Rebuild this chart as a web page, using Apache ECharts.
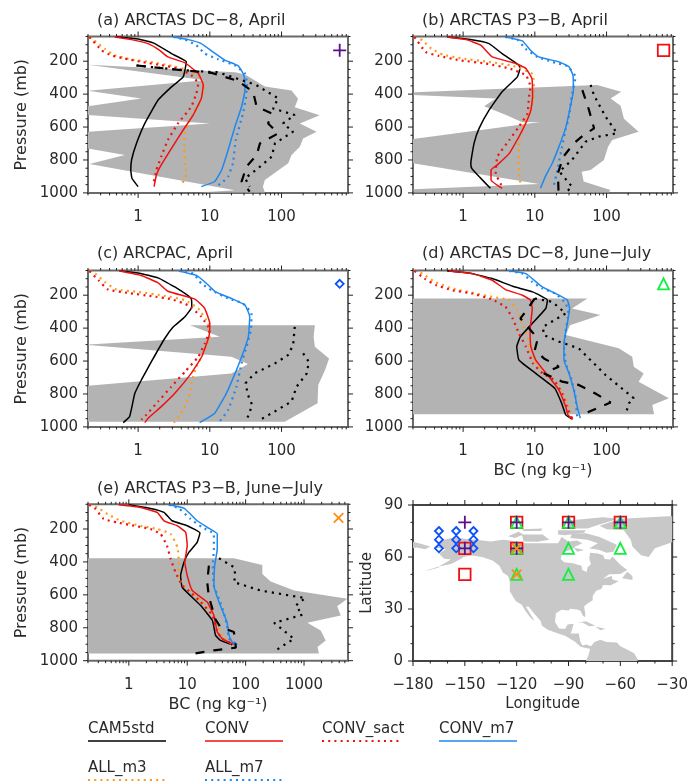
<!DOCTYPE html>
<html><head><meta charset="utf-8">
<style>html,body{margin:0;padding:0;background:#fff}#c{width:691px;height:782px}</style>
<script src="https://cdn.jsdelivr.net/npm/echarts@6/dist/echarts.min.js"></script>
</head><body><div id="c"></div>
<script>
// ---------- panel (a) ----------
const a_cam=[[.5,53],[1,65],[1.71,93],[2.92,154],[4.7,204],[4.25,295],[2.92,356],[1.9,436],[1.24,578],[.95,699],[.81,800],[.79,861],[.82,911],[1,962]];
const a_conv=[[.47,53],[.81,69],[1.38,93],[2,134],[2.6,174],[4.5,210],[6.9,275],[8.1,345],[7.6,426],[5.85,527],[4.25,618],[2.92,729],[2.1,830],[1.8,891],[1.67,962]];
const a_sact=[[.21,53],[.31,134],[.42,164],[.65,184],[1.11,204],[2.1,224],[3.6,244],[5.5,285],[6.9,335],[6.5,396],[5.5,477],[3.6,578],[2.6,679],[2.1,780],[1.8,861],[1.62,952]];
const a_m3=[[.21,53],[.26,83],[.34,124],[.47,164],[.81,190],[1.45,204],[2.92,228],[5,255],[7.6,305],[8.3,366],[7.2,457],[5.5,537],[4.5,638],[4.4,739],[4.6,840],[4.7,891],[4,952]];
const a_m7c=[[3.1,53],[5,69],[7.6,93],[11.1,144],[16.2,194],[24.9,228],[29.9,285],[30.9,376],[27.7,477],[22.4,598],[18,739],[14.6,861],[11.7,931],[7.6,962]];
const a_m7a=[[3.1,53],[4.5,69],[6.5,103],[8.5,154],[13,188],[22,224],[30.9,275],[33,335],[32,416],[29,517],[23,679],[21,820],[18,901],[15.4,931],[12.8,957]];
const a_obsDash=[[.95,226],[3.2,250],[10.6,271],[25,321],[40,385],[45,477],[73,517],[65,578],[90,638],[50,699],[45,770],[32.5,840],[27.7,931],[36,992]];
const a_obsDot=[[.95,226],[3.2,250],[6.2,260],[13,267],[44,344],[90,426],[76,487],[153,527],[105,578],[145,628],[81,699],[73,780],[44,861],[31,911],[36,962]];
const a_range=[[.2,221],[22.4,267],[31,281],[58.5,354],[138,378],[170,428],[153,479],[340,529],[180,578],[308,628],[200,669],[180,719],[138,770],[124,820],[58.5,921],[55,962],[58.5,998],[6.9,998],[22.4,984],[.21,824],[.65,770],[.2,730],[.2,628],[10,578],[.2,527],[.2,473],[1.1,426],[.2,380],[8.5,315]];
// ---------- panel (b) ----------
const b_cam=[[.6,53],[1.2,67],[2.3,93],[3.5,154],[6,224],[6.2,244],[5.7,295],[3.5,386],[2.3,497],[1.67,608],[1.42,699],[1.28,820],[1.32,851],[1.67,901],[2.4,972]];
const b_conv=[[.6,53],[1.1,69],[1.76,103],[2.55,174],[5.4,214],[7.5,244],[9.1,305],[9.3,416],[8.8,497],[7.45,578],[6,659],[4.4,760],[3,830],[2.45,861],[2.45,921],[3.5,972]];
const b_sact=[[.21,53],[.3,144],[.46,168],[.88,194],[2.07,214],[4.4,244],[7.5,285],[8.7,355],[8.3,416],[7.9,517],[6,598],[4.4,679],[3,780],[2.85,881],[3.5,962]];
const b_m3=[[.21,53],[.27,73],[.36,124],[.52,160],[.98,184],[2.3,204],[4.9,228],[9.3,278],[9.8,416],[8.8,497],[7,578],[6,699],[5.9,840],[6.3,941]];
const b_m7c=[[3.85,53],[6.7,77],[8.7,134],[11.3,174],[21.7,204],[30,234],[34,285],[34.5,376],[30.6,497],[26.8,608],[21.7,719],[17.5,820],[14,901],[12,972]];
const b_m7a=[[3.85,53],[5.7,69],[7.4,124],[10.8,174],[17.5,204],[28.4,230],[37,295],[32.5,416],[30,537],[26.8,618],[24,719],[20.6,861],[18.5,952]];
const b_obsDash=[[46,376],[57,497],[67,608],[48,648],[35,699],[25,780],[21,881],[21.4,992]];
const b_obsDot=[[60,344],[67,408],[97,537],[140,638],[78,658],[51,689],[33,800],[22,871],[33,962],[27,998]];
const b_range=[[.21,388],[74,344],[160,385],[114,426],[157,470],[175,550],[280,628],[120,679],[105,719],[92,800],[60,861],[45,871],[48,931],[113,982],[108,998],[.21,998],[.2,978],[11.4,946],[.2,820],[.2,672],[1.67,620],[12,569],[6.7,571],[3.9,525],[1.96,474],[2.85,426],[.2,406]];
// ---------- panel (c) ----------
const c_cam=[[.55,53],[1,65],[1.9,95],[3.25,150],[5.5,220],[5.6,271],[4.5,331],[3.1,392],[2.35,463],[1.53,604],[1.11,715],[.9,796],[.82,877],[.76,937],[.62,974]];
const c_conv=[[.55,53],[1.11,80],[1.9,125],[2.6,176],[6.2,224],[8.5,281],[10,372],[9.7,452],[7.7,574],[5.5,675],[3.25,796],[2.1,877],[1.38,947],[1.24,974]];
const c_sact=[[.21,53],[.28,109],[.38,166],[.72,186],[1.53,206],[2.9,224],[5,261],[7.6,331],[10,412],[8.5,493],[6.9,574],[4.5,665],[2.9,756],[1.9,846],[1.3,927],[1.11,957]];
const c_m3=[[.21,53],[.26,73],[.34,119],[.5,166],[1,180],[2.35,204],[4.5,230],[6.9,281],[9.5,372],[10,452],[8.5,533],[6.5,634],[5.5,735],[5.25,796],[4.25,897],[3.15,974]];
const c_m7c=[[3.7,53],[6.5,80],[9,129],[12,180],[20,220],[31,261],[36,331],[34.5,452],[29,553],[23.5,655],[17,796],[11.7,917],[7.2,974]];
const c_m7a=[[3.7,53],[5.9,69],[7.6,129],[10.6,170],[18,220],[29,250],[38,311],[37.5,412],[32.5,513],[27.7,614],[23.5,756],[18,897],[13.8,965]];
const c_obsDot1=[[153,392],[145,503],[123,564],[81,614],[42,675],[31.5,735],[34,806],[39,867],[34,937],[31.5,968]];
const c_obsDot2=[[200,553],[240,604],[225,675],[162,756],[138,846],[73,917],[50,957]];
const c_range=[[5.3,382],[292,382],[280,452],[292,513],[460,584],[405,655],[325,745],[318,857],[111,968],[.2,968],[.2,750],[20,675],[34,618],[20,574],[.2,503],[.2,499],[13.8,452]];
// ---------- panel (d) ----------
const d_cam=[[.6,53],[1.2,65],[2.55,99],[4.9,146],[9.3,180],[15,230],[14.2,281],[9.2,372],[6.3,452],[5.6,513],[6,594],[10.3,675],[19,766],[23.7,857],[27,927],[33,953]];
const d_conv=[[.63,53],[1.35,69],[2.55,109],[3.9,166],[6.7,200],[8.7,230],[9.2,281],[8.6,412],[8.8,513],[10.3,594],[15.7,695],[21.7,776],[27,877],[29,927],[34,953]];
const d_sact=[[.21,53],[.29,99],[.42,139],[.71,170],[1.35,190],[2.55,226],[3.9,271],[4.9,341],[6,432],[7.5,513],[9.4,614],[12.8,675],[18.5,715],[24,796],[29,897],[33,947]];
const d_m3=[[.21,53],[.27,69],[.4,119],[.71,160],[1.35,186],[2.55,210],[4.4,230],[5.7,291],[6.7,372],[7.9,452],[8.8,553],[10.9,634],[17.5,715],[25,796],[30,877],[31.5,947]];
const d_m7c=[[4.4,53],[7.5,69],[12.7,150],[19.5,190],[28.4,230],[30.5,281],[28.4,372],[25.5,493],[25.5,594],[30,675],[35,776],[39,877],[43,947]];
const d_m7a=[[4.4,53],[6.7,69],[9.2,119],[12.7,160],[19.5,190],[27,250],[29.5,311],[27,412],[25.5,513],[27,614],[31.5,695],[37,816],[39,937],[43,953]];
const d_obsDash=[[10,220],[7.4,301],[6.3,341],[11,463],[10,533],[13.4,584],[21.6,634],[13.4,675],[24,725],[41,745],[69,796],[114,852],[51,917]];
const d_obsDot=[[10,220],[17.5,240],[27,311],[20.6,341],[13,392],[13.3,442],[22,483],[41,523],[97,685],[240,826],[205,857],[185,921]];
const d_range=[[.2,220],[54,220],[33,281],[82,321],[31,382],[27,442],[148,523],[228,574],[240,634],[330,675],[280,725],[740,826],[435,867],[460,923],[.2,923]];
// ---------- panel (e) ----------
const e_cam=[[1,53],[2.35,75],[4,99],[5.5,150],[10,180],[16.5,224],[14.8,281],[10.7,341],[8.8,402],[7.7,483],[8.2,554],[17,665],[27,756],[30.6,846],[37,877],[59,903]];
const e_conv=[[.67,53],[1.6,69],[3.06,99],[4,150],[6.7,180],[9.4,220],[10,301],[9.1,402],[10,483],[12.2,574],[22,644],[28.6,725],[32.7,826],[40,867],[63,901]];
const e_sact=[[.21,53],[.27,79],[.37,139],[.63,160],[1.22,180],[2.35,200],[3.5,230],[4.5,301],[5.2,382],[6.3,463],[8.2,543],[11.4,584],[17,644],[27,725],[32.7,826],[40,867],[59,897]];
const e_m3=[[.21,53],[.29,69],[.43,109],[.72,150],[1.58,180],[3.06,200],[5.2,230],[6.8,311],[7.2,402],[7.2,503],[10,564],[17,634],[28.6,725],[37,826],[48,877],[59,901]];
const e_m7c=[[4.85,53],[8.9,75],[14.8,150],[22,190],[32.7,230],[32.7,321],[29.5,422],[28.6,543],[35,644],[48,766],[52,846],[59,887],[72,901]];
const e_m7a=[[4.85,53],[7.2,75],[11.4,139],[18,190],[28.6,230],[28.6,321],[27.5,422],[28.6,543],[35,624],[42,705],[48,786],[52,867],[72,901]];
const e_obsDash=[[23.5,422],[22,523],[23.5,614],[26,665],[30,745],[37,796],[63,826],[66,877],[68,921],[28.6,937],[13,957]];
const e_obsDot=[[35,378],[63,432],[67,483],[63,523],[181,574],[1050,620],[720,665],[940,721],[308,770],[670,867],[350,931],[372,953]];
const e_range=[[.2,378],[63,378],[193,418],[193,473],[268,519],[680,574],[5500,624],[3700,669],[4250,725],[1140,770],[1930,816],[2350,877],[1700,917],[1800,957],[.2,957]];
// ---------- map ----------
const land_mainland=[[-168,65.6],[-164,66.5],[-166,68.3],[-162,70],[-156.5,71.3],[-150,70.5],[-141,69.6],[-135,69],[-128,70],[-124,69.5],[-115,68],[-108,68],[-102,68],[-96,68],[-94,71.5],[-90,69],[-85,69.5],[-82,68],[-86,66],[-88,64.5],[-92,63],[-94,61],[-94.5,58.8],[-92.5,57],[-88,56.5],[-82.5,55],[-82,52.5],[-79.5,51.3],[-79,54],[-77,56],[-78,59],[-77.5,62.5],[-73,62],[-70,61],[-69,58.8],[-66,58.5],[-64.5,60.3],[-62,57.5],[-60,55.5],[-56,52.5],[-60,50.2],[-66.5,50],[-70,47.5],[-65,49],[-64.5,47],[-61,46],[-65.5,43.7],[-70,43.8],[-71,41.5],[-74,40.5],[-76,37.5],[-76,35],[-79,33.2],[-81,31.5],[-80.2,27],[-80.5,25.2],[-82,26.5],[-83,29],[-85,29.7],[-89,30.2],[-90,29.2],[-94,29.6],[-97.3,27.5],[-97.8,22.5],[-95.5,18.8],[-92,18.5],[-90.5,21],[-87,21.5],[-88,18],[-88.8,15.8],[-84,15.9],[-83.3,11.5],[-82,9],[-79.5,9.5],[-77,8.5],[-75,11],[-71.5,12.3],[-68,11],[-62,10.7],[-60,8.5],[-55,6],[-52,4.5],[-50,1],[-50,0],[-80,0],[-78.5,3],[-77.5,7],[-80,7.5],[-83,8.2],[-86,11],[-92,14.5],[-96,15.8],[-102,18],[-105.5,20.5],[-106,23],[-110,27.5],[-113,31.3],[-114.7,31.5],[-112,27],[-109.5,23],[-112,25],[-115,29],[-117,32.5],[-120.5,34.5],[-124,40.2],[-124,46],[-125,49],[-128,51],[-130,55],[-134,58],[-140,60],[-146,60.8],[-151,60],[-152,59],[-158,56],[-165,54.5],[-158,58.5],[-162,59],[-165,62],[-161,64.5]];
const land_aleutian=[[-165,54.5],[-172,52.3],[-172,52],[-165,54]];
const land_siberia=[[-180,68.8],[-175,67.5],[-170,66],[-173,64.4],[-178,65.5],[-180,65]];
const land_newfoundland=[[-59,47.7],[-53,46.8],[-53,49],[-56,51.5]];
const land_greenland=[[-72,78],[-60,82],[-32,83.5],[-30,83.5],[-30,68.5],[-40,65],[-43.5,60],[-48,61],[-53,66],[-54,70],[-58,75.5],[-68,76]];
const land_ellesmere=[[-90,81],[-70,83],[-61,82],[-73,78.5],[-79,76.5],[-89,76.5]];
const land_baffin=[[-80,73.7],[-72,71.5],[-62,67],[-64,63],[-68,62.5],[-72,64],[-78,65],[-73,68],[-79,70],[-89,71],[-88,73.5]];
const land_victoria=[[-117,73],[-105,73],[-101,70],[-108,68.8],[-116,69]];
const land_banks=[[-125,72],[-119,74.5],[-116,73],[-121,71]];
const land_melville=[[-117,76],[-105,76.5],[-106,75],[-116,75]];
const land_devon=[[-96,75.5],[-80,75.5],[-81,74],[-92,72.5],[-96,73]];
const land_southampton=[[-87,65.5],[-81,64],[-85,63]];
const land_cuba=[[-85,22],[-80,23],[-74.5,20.3],[-78,20],[-82,22.2]];
const land_hispaniola=[[-74.4,19.8],[-68.5,18.6],[-71.5,17.8]];
const landShapes=[land_mainland,land_aleutian,land_siberia,land_newfoundland,land_greenland,land_ellesmere,land_baffin,land_victoria,land_banks,land_melville,land_devon,land_southampton,land_cuba,land_hispaniola];
const sites_plus=[[-150,80],[-150,65],[-120,80],[-120,65],[-90,80],[-60,80]];
const sites_square=[[-150,65],[-150,50],[-120,80],[-120,65],[-90,80],[-60,80]];
const sites_triangle=[[-120,80],[-120,65],[-120,50],[-90,80],[-90,65],[-90,50],[-60,80],[-60,65]];
const sites_cross=[[-120,65],[-120,50]];
const sites_diamond=[[-165,65],[-165,70],[-165,75],[-155,65],[-155,70],[-155,75],[-145,65],[-145,70],[-145,75]];
// ---------- key markers inside each panel ----------
const key_a=[[647,134]],key_b=[[624,134]],key_c=[[647,131]],key_d=[[624,131]],key_e=[[3900,133]];
// ---------- ticks & labels ----------
const logMajor=[1,10,100,1000];
const logMinor=[.2,.3,.4,.5,.6,.7,.8,.9,2,3,4,5,6,7,8,9,20,30,40,50,60,70,80,90,200,300,400,500,600,700,800,900,2000,3000,4000,5000];
const pressMajor=[200,400,600,800,1000];
const pressMinor=[50,100,150,250,300,350,450,500,550,650,700,750,850,900,950];
const lonMajor=[-180,-150,-120,-90,-60,-30],lonMinor=[-170,-160,-140,-130,-110,-100,-80,-70,-50,-40];
const latMajor=[0,30,60,90],latMinor=[10,20,40,50,70,80];
const titles=['(a) ARCTAS DC−8, April','(b) ARCTAS P3−B, April','(c) ARCPAC, April','(d) ARCTAS DC−8, June−July','(e) ARCTAS P3−B, June−July'];
const legendNames=['CAM5std','CONV','CONV_sact','CONV_m7','ALL_m3','ALL_m7'];

const FONT='DejaVu Sans',TXT='#2a2a2a',FS=15,FSN=16;
const C={cam:'#000000',conv:'#f01010',sact:'#f01010',m3:'#ff9a1a',m7:'#1e88f0',purple:'#5b0f8c',green:'#10f040',dia:'#0a50ff',or:'#ff8c10',sq:'#f01010'};
const DOTW=2.2,DOT=[2,4.2],BDOT=[2.2,5],DASH=[9,9];

const panels=[
 {g:[88,36.5],max:845,cam:a_cam,conv:a_conv,sact:a_sact,m3:a_m3,m7c:a_m7c,m7a:a_m7a,dash:a_obsDash,dots:[a_obsDot],range:a_range,key:key_a,sym:'plus'},
 {g:[413,36.5],max:845,cam:b_cam,conv:b_conv,sact:b_sact,m3:b_m3,m7c:b_m7c,m7a:b_m7a,dash:b_obsDash,dots:[b_obsDot],range:b_range,key:key_b,sym:'square'},
 {g:[88,270.5],max:845,cam:c_cam,conv:c_conv,sact:c_sact,m3:c_m3,m7c:c_m7c,m7a:c_m7a,dots:[c_obsDot1,c_obsDot2],range:c_range,key:key_c,sym:'diamond'},
 {g:[413,270.5],max:845,name:'BC (ng kg⁻¹)',cam:d_cam,conv:d_conv,sact:d_sact,m3:d_m3,m7c:d_m7c,m7a:d_m7a,dash:d_obsDash,dots:[d_obsDot],range:d_range,key:key_d,sym:'triangle'},
 {g:[88,504.3],max:5660,name:'BC (ng kg⁻¹)',cam:e_cam,conv:e_conv,sact:e_sact,m3:e_m3,m7c:e_m7c,m7a:e_m7a,dash:e_obsDash,dots:[e_obsDot],range:e_range,key:key_e,sym:'cross'}
];
const PLUS='path://M-10 0L10 0M0 -10L0 10',CROSS='path://M-10 -10L10 10M10 -10L-10 10';
const SYM={
 plus:{symbol:PLUS,size:13,color:C.purple},
 square:{symbol:'rect',size:11.5,color:C.sq},
 diamond:{symbol:'diamond',size:8,color:C.dia},
 triangle:{symbol:'triangle',size:11,color:C.green},
 cross:{symbol:CROSS,size:9.5,color:C.or}
};
const grids=[],xAxes=[],yAxes=[],series=[],titleOpt=[];
function polySeries(gi,pts,fill,z){
  return {type:'custom',xAxisIndex:gi,yAxisIndex:gi,silent:true,z:z,data:pts,
    renderItem(params,api){
      if(params.dataIndex!==0)return null;
      return {type:'polygon',shape:{points:pts.map(p=>api.coord(p))},style:{fill:fill,stroke:null}};
    }};
}
function tickSeries(gi,xMaj,xMin,yMaj,yMin,xEdge,yEdge,mLen,sLen){
  const d=[];
  const add=(v,e,dx,dy,l,isX)=>d.push(isX?[v,e,dx,dy,l]:[e,v,dx,dy,l]);
  xMaj.forEach(v=>{add(v,yEdge[1],0,1,mLen,true);add(v,yEdge[0],0,-1,mLen,true)});
  xMin.forEach(v=>{add(v,yEdge[1],0,1,sLen,true);add(v,yEdge[0],0,-1,sLen,true)});
  yMaj.forEach(v=>{add(v,xEdge[0],-1,0,mLen,false);add(v,xEdge[1],1,0,mLen,false)});
  yMin.forEach(v=>{add(v,xEdge[0],-1,0,sLen,false);add(v,xEdge[1],1,0,sLen,false)});
  return {type:'custom',xAxisIndex:gi,yAxisIndex:gi,silent:true,z:20,data:d,clip:false,
    encode:{x:0,y:1},
    renderItem(params,api){
      const p=api.coord([api.value(0),api.value(1)]);
      const l=api.value(4);
      return {type:'line',shape:{x1:p[0],y1:p[1],x2:p[0]+api.value(2)*l,y2:p[1]+api.value(3)*l},style:{stroke:'#222',lineWidth:1}};
    }};
}
function lineSeries(gi,name,data,color,width,dash,smooth){
  return {type:'line',name,xAxisIndex:gi,yAxisIndex:gi,data,showSymbol:false,symbol:'none',smooth:smooth?0.12:false,z:5,silent:true,
    lineStyle:{color,width,type:dash||'solid',cap:'butt'}};
}
function keySeries(gi,data,sym){
  const s=SYM[sym];
  return {type:'scatter',xAxisIndex:gi,yAxisIndex:gi,data,symbol:s.symbol,symbolSize:s.size,z:12,silent:true,
    itemStyle:{color:'none',borderColor:s.color,borderWidth:1.8,opacity:1}};
}
panels.forEach((P,i)=>{
  grids.push({left:P.g[0],top:P.g[1],width:260,height:156.4,show:true,borderColor:'#6a6a6a',borderWidth:2,backgroundColor:'transparent'});
  xAxes.push({type:'log',logBase:10,gridIndex:i,min:.2,max:P.max,
    name:P.name||'',nameLocation:'middle',nameGap:36,nameTextStyle:{fontFamily:FONT,fontSize:FSN,color:TXT},
    axisLine:{show:false},axisTick:{show:false},splitLine:{show:false},minorTick:{show:false},minorSplitLine:{show:false},
    axisLabel:{customValues:logMajor.filter(v=>v<P.max),margin:17,fontFamily:FONT,fontSize:FS,color:TXT,formatter:v=>String(Math.round(v))}});
  yAxes.push({type:'value',gridIndex:i,inverse:true,min:50,max:1000,
    name:i%2==0?'Pressure (mb)':'',nameLocation:'middle',nameGap:58,nameRotate:90,nameTextStyle:{fontFamily:FONT,fontSize:FSN,color:TXT},
    axisLine:{show:false},axisTick:{show:false},splitLine:{show:false},
    axisLabel:{customValues:pressMajor,margin:10,padding:[3,0,0,0],fontFamily:FONT,fontSize:FS,color:TXT,formatter:v=>String(Math.round(v))}});
  series.push(polySeries(i,P.range,'#b3b3b3',1));
  series.push(lineSeries(i,'CAM5std',P.cam,C.cam,1.5,null,true));
  series.push(lineSeries(i,'ALL_m3',P.m3,C.m3,DOTW,DOT,true));
  series.push(lineSeries(i,'CONV_sact',P.sact,C.sact,DOTW,DOT,true));
  series.push(lineSeries(i,'ALL_m7',P.m7a,C.m7,DOTW,DOT,true));
  series.push(lineSeries(i,'CONV',P.conv,C.conv,1.5,null,true));
  series.push(lineSeries(i,'CONV_m7',P.m7c,C.m7,1.5,null,true));
  if(P.dash)series.push(lineSeries(i,'obs',P.dash,'#000',2.2,DASH,false));
  P.dots.forEach(d=>series.push(lineSeries(i,'obs',d,'#000',DOTW,BDOT,false)));
  series.push(keySeries(i,P.key,P.sym));
  series.push(tickSeries(i,logMajor.filter(v=>v<P.max),logMinor.filter(v=>v<P.max),pressMajor,pressMinor,[.2,P.max],[50,1000],5,2.5));
});
// map
const M=5;
grids.push({left:413,top:505,width:260,height:156,show:true,borderColor:'#444',borderWidth:2,backgroundColor:'transparent'});
xAxes.push({type:'value',gridIndex:M,min:-180,max:-30,interval:30,name:'Longitude',nameLocation:'middle',nameGap:36,nameTextStyle:{fontFamily:FONT,fontSize:FS,color:TXT},
  axisLine:{show:false},axisTick:{show:false},splitLine:{show:false},
  axisLabel:{margin:17,fontFamily:FONT,fontSize:FS,color:TXT,formatter:v=>String(v).replace('-','−'),hideOverlap:false,showMinLabel:true,showMaxLabel:true}});
yAxes.push({type:'value',gridIndex:M,min:0,max:90,interval:30,name:'Latitude',nameLocation:'middle',nameGap:38,nameRotate:90,nameTextStyle:{fontFamily:FONT,fontSize:FS,color:TXT},
  axisLine:{show:false},axisTick:{show:false},splitLine:{show:false},
  axisLabel:{margin:10,padding:[3,0,0,0],fontFamily:FONT,fontSize:FS,color:TXT}});
landShapes.forEach(s=>series.push(polySeries(M,s,'#c8c8c8',1)));
series.push(keySeries(M,sites_square,'square'));
series.push(keySeries(M,sites_triangle,'triangle'));
series.push(keySeries(M,sites_diamond,'diamond'));
series.push(keySeries(M,sites_plus,'plus'));
series.push(keySeries(M,sites_cross,'cross'));
series.push(tickSeries(M,lonMajor,lonMinor,latMajor,latMinor,[-180,-30],[90,0],5,2.5));

titles.forEach((t,i)=>{
  const pos=[[97,13],[422,13],[97,246],[422,246],[97,481]][i];
  titleOpt.push({text:t,left:pos[0],top:pos[1],padding:0,textStyle:{fontFamily:FONT,fontSize:16,fontWeight:'normal',color:TXT}});
});
// legend key: name above a short line sample
const legendPos=[[88,728,741],[205,728,741],[322,728,741],[439,728,741],[88,767,780],[205,767,780]];
const legendStyle=[[C.cam,1.5,null],[C.conv,1.5,null],[C.sact,DOTW,DOT],[C.m7,1.5,null],[C.m3,DOTW,DOT],[C.m7,DOTW,DOT]];
const graphics=[];
legendNames.forEach((n,i)=>{
  const [x,ty,ly]=legendPos[i],[col,w,dash]=legendStyle[i];
  graphics.push({type:'text',left:x,top:ty-6,style:{text:n,fontFamily:FONT,fontSize:FS,fill:TXT}});
  graphics.push({type:'line',shape:{x1:x,y1:ly,x2:x+78,y2:ly},style:{stroke:col,lineWidth:w,lineDash:dash||undefined}});
});
const chart=echarts.init(document.getElementById('c'),null,{renderer:'canvas'});
chart.setOption({animation:false,backgroundColor:'#fff',title:titleOpt,grid:grids,xAxis:xAxes,yAxis:yAxes,series,graphic:graphics,tooltip:{show:false}});
</script></body></html>
